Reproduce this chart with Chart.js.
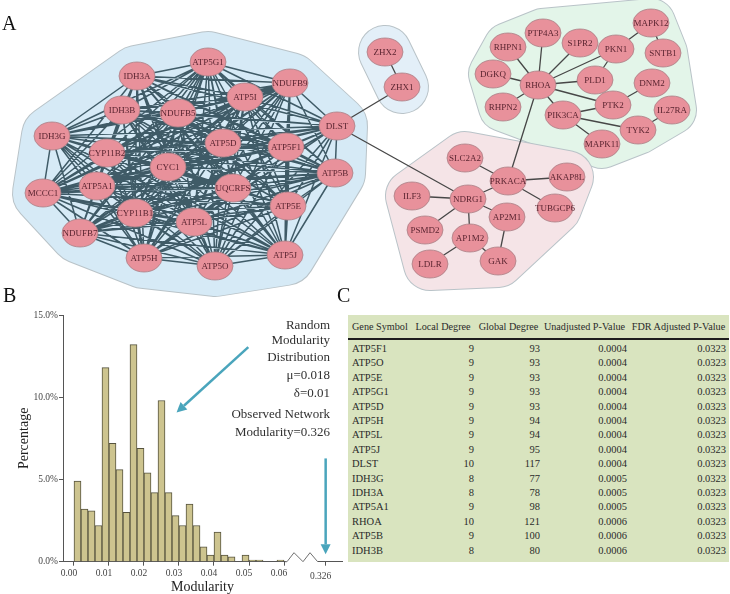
<!DOCTYPE html>
<html lang="en">
<head>
  <meta charset="UTF-8">
  <title>Module network | Modularity</title>
  <script src="https://cdn.jsdelivr.net/npm/chart.js"></script>
  <style>
    body { margin: 0; background: #fff; font-family: "Liberation Serif", "DejaVu Serif", serif; }
    #wrap { position: relative; width: 730px; height: 594px; overflow: hidden; }
    .panel-label { position: absolute; font-size: 20px; line-height: 20px; color: #111; }
    #netChart { position: absolute; left: 0; top: 0; }
    #histChart { position: absolute; left: 0; top: 305px; }
    #tableBox { position: absolute; left: 348px; top: 315px; width: 381px; height: 247px; background: #d9e4bf; }
    #geneTable { border-collapse: separate; border-spacing: 0; table-layout: fixed; width: 381px; color: #2b2b2b; }
    #geneTable th { font-weight: normal; font-size: 10.2px; height: 23px; padding: 0; border-bottom: 2px solid #1e1e1e; text-align: center; white-space: nowrap; vertical-align: middle; }
    #geneTable th:first-child { text-align: left; padding-left: 4px; }
    #geneTable td { font-size: 10.5px; height: 14.4px; line-height: 14.4px; padding: 0 2px 0 0; text-align: right; white-space: nowrap; }
    #geneTable td:first-child { text-align: left; padding-left: 4px; }
    #geneTable tbody tr:first-child td { padding-top: 2px; }
  </style>
</head>
<body>
<div id="wrap">
  <canvas id="netChart" width="730" height="300"></canvas>
  <canvas id="histChart" width="345" height="289"></canvas>
  <div id="tableBox">
    <table id="geneTable">
      <colgroup><col style="width:62px"><col style="width:66px"><col style="width:65px"><col style="width:87px"><col style="width:101px"></colgroup>
      <thead><tr><th>Gene Symbol</th><th>Local Degree</th><th>Global Degree</th><th>Unadjusted P-Value</th><th>FDR Adjusted P-Value</th></tr></thead>
      <tbody id="geneRows"></tbody>
    </table>
  </div>
  <div class="panel-label" style="left:2px;top:13px">A</div>
  <div class="panel-label" style="left:3px;top:285px">B</div>
  <div class="panel-label" style="left:337px;top:285px">C</div>
</div>

<script>
  // ---- panel A: network (layout) ----
  const nodeNames = ["ATP5G1","IDH3A","NDUFB9","ATP5I","IDH3B","NDUFB5","DLST","IDH3G","ATP5D","ATP5F1","CYP11B2","CYC1",
    "ATP5B","MCCC1","ATP5A1","UQCRFS","ATP5E","CYP11B1","ATP5L","NDUFB7","ATP5H","ATP5O","ATP5J",
    "ZHX2","ZHX1",
    "RHPN1","PTP4A3","S1PR2","MAPK12","PKN1","SNTB1","DGKQ","RHOA","PLD1","DNM2","RHPN2","PTK2","IL27RA","PIK3CA","TYK2","MAPK11",
    "SLC2A2","PRKACA","AKAP8L","ILF3","NDRG1","TUBGCP6","AP2M1","PSMD2","AP1M2","GAK","LDLR"];
  const nodeX = [208,137,290,245,122,178,337,52,223,286,107,168,335,43,97,233,288,135,194,80,144,215,285,
    385,402,
    508,543,580,651,616,663,493,538,595,652,503,613,672,563,638,602,
    465,508,567,412,468,555,507,425,470,498,430];
  const nodeY = [62,76,83,97,110,113,126,136,143,147,153,167,173,193,186,188,206,213,222,233,258,266,255,
    52,87,
    47,33,43,23,49,53,74,85,80,83,107,105,110,115,130,144,
    158,181,177,196,199,208,217,230,238,261,264];
  const nodeGroup = [..."mmmmmmmmmmmmmmmmmmmmmmm", "z","z", ..."rrrrrrrrrrrrrrrr", ..."ppppppppppp"];

  // sparse links outside the dense mitochondrial module
  const edgeFrom = ["ZHX2","ZHX1","DLST","RHOA","RHOA","RHOA","RHOA","RHOA","RHOA","RHOA","RHOA","RHOA","RHOA",
    "PKN1","MAPK12","PKN1","PTK2","PTK2","PIK3CA","TYK2","PIK3CA",
    "PRKACA","PRKACA","PRKACA","PRKACA","NDRG1","NDRG1","NDRG1","NDRG1","AP1M2","AP1M2","AP2M1"];
  const edgeTo = ["ZHX1","DLST","NDRG1","PRKACA","RHPN1","PTP4A3","S1PR2","PKN1","DGKQ","PLD1","RHPN2","PTK2","PIK3CA",
    "MAPK12","SNTB1","PLD1","DNM2","PIK3CA","TYK2","IL27RA","MAPK11",
    "SLC2A2","AKAP8L","TUBGCP6","NDRG1","ILF3","AP2M1","PSMD2","AP1M2","LDLR","GAK","GAK"];

  const hullFill = { m: "#d6eaf6", z: "#e3eff8", r: "#e3f5e9", p: "#f5e4e7" };
  const hullPad = { m: 30, z: 26, r: 24, p: 26 };

  function convexHull(pts) {
    const p = pts.slice().sort((a, b) => a.x - b.x || a.y - b.y);
    if (p.length < 3) return p;
    const cross = (o, a, b) => (a.x - o.x) * (b.y - o.y) - (a.y - o.y) * (b.x - o.x);
    const lo = [], up = [];
    for (const q of p) { while (lo.length >= 2 && cross(lo[lo.length - 2], lo[lo.length - 1], q) <= 0) lo.pop(); lo.push(q); }
    for (const q of p.slice().reverse()) { while (up.length >= 2 && cross(up[up.length - 2], up[up.length - 1], q) <= 0) up.pop(); up.push(q); }
    return lo.slice(0, -1).concat(up.slice(0, -1));
  }

  const networkPlugin = {
    id: "network",
    beforeDatasetsDraw(chart) {
      const ctx = chart.ctx;
      const pts = chart.getDatasetMeta(0).data;
      const byName = {};
      nodeNames.forEach((n, i) => byName[n] = pts[i]);
      ctx.save();
      ctx.lineJoin = "round";
      ctx.lineCap = "round";
      for (const g of Object.keys(hullFill)) {
        const hull = convexHull(pts.filter((p, i) => nodeGroup[i] === g).map(p => ({ x: p.x, y: p.y })));
        ctx.beginPath();
        hull.forEach((q, i) => i ? ctx.lineTo(q.x, q.y) : ctx.moveTo(q.x, q.y));
        ctx.closePath();
        ctx.strokeStyle = "#b9c3c8";
        ctx.lineWidth = hullPad[g] * 2 + 2;
        ctx.stroke();
        ctx.strokeStyle = hullFill[g];
        ctx.lineWidth = hullPad[g] * 2;
        ctx.stroke();
        ctx.fillStyle = hullFill[g];
        ctx.fill();
      }
      // dense module: every pair linked
      const mito = pts.filter((p, i) => nodeGroup[i] === "m");
      ctx.strokeStyle = "rgba(50,78,90,0.92)";
      ctx.lineWidth = 1.5;
      ctx.beginPath();
      for (let i = 0; i < mito.length; i++)
        for (let j = i + 1; j < mito.length; j++) {
          ctx.moveTo(mito[i].x, mito[i].y);
          ctx.lineTo(mito[j].x, mito[j].y);
        }
      ctx.stroke();
      ctx.strokeStyle = "#474747";
      ctx.lineWidth = 1.3;
      ctx.beginPath();
      edgeFrom.forEach((f, i) => {
        const a = byName[f], b = byName[edgeTo[i]];
        ctx.moveTo(a.x, a.y);
        ctx.lineTo(b.x, b.y);
      });
      ctx.stroke();
      ctx.restore();
    },
    afterDatasetsDraw(chart) {
      const ctx = chart.ctx;
      const pts = chart.getDatasetMeta(0).data;
      ctx.save();
      ctx.font = '9px "Liberation Serif"';
      ctx.textAlign = "center";
      ctx.textBaseline = "middle";
      pts.forEach((p, i) => {
        ctx.beginPath();
        ctx.ellipse(p.x, p.y, 18, 14, 0, 0, Math.PI * 2);
        ctx.fillStyle = "#e8919b";
        ctx.fill();
        ctx.strokeStyle = "#a98087";
        ctx.lineWidth = 0.8;
        ctx.stroke();
        ctx.fillStyle = "#5a2430";
        ctx.fillText(nodeNames[i], p.x, p.y + 0.5);
      });
      ctx.restore();
    }
  };

  new Chart(document.getElementById("netChart"), {
    type: "scatter",
    data: { datasets: [{ data: nodeNames.map((n, i) => ({ x: nodeX[i], y: nodeY[i] })), pointRadius: 0 }] },
    options: {
      responsive: false, animation: false, events: [],
      layout: { padding: 0 },
      plugins: { legend: { display: false }, tooltip: { enabled: false } },
      scales: {
        x: { type: "linear", min: 0, max: 730, display: false },
        y: { type: "linear", min: 0, max: 300, reverse: true, display: false }
      }
    },
    plugins: [networkPlugin]
  });

  // ---- panel B: modularity histogram ----
  const binWidth = 0.002;
  const binStart = [0.000,0.002,0.004,0.006,0.008,0.010,0.012,0.014,0.016,0.018,0.020,0.022,0.024,0.026,0.028,
    0.030,0.032,0.034,0.036,0.038,0.040,0.042,0.044,0.046,0.048,0.050,0.052,0.054,0.056,0.058];
  const binPct = [4.9,3.2,3.1,2.2,11.8,7.2,5.6,3.0,13.2,6.9,5.4,4.2,9.8,4.2,2.8,
    2.2,3.5,2.2,0.9,0.4,1.8,0.4,0.3,0,0.4,0.1,0.1,0,0,0.1];
  const xTickValues = [0.00,0.01,0.02,0.03,0.04,0.05,0.06];
  const observedPos = 0.0719;        // where the axis break puts the observed value
  const observedLabel = "0.326";
  const yTickValues = [0,5,10,15];
  const noteLines = ["Random","Modularity","Distribution","\u03bc=0.018","\u03b4=0.01","Observed Network","Modularity=0.326"];
  const noteY = [21,36,53,71,89,110,128];

  function arrow(ctx, x1, y1, x2, y2) {
    const a = Math.atan2(y2 - y1, x2 - x1), L = 10, W = 5;
    const bx = x2 - L * Math.cos(a), by = y2 - L * Math.sin(a);
    ctx.beginPath();
    ctx.moveTo(x1, y1);
    ctx.lineTo(bx, by);
    ctx.stroke();
    ctx.beginPath();
    ctx.moveTo(x2, y2);
    ctx.lineTo(bx + W * Math.sin(a), by - W * Math.cos(a));
    ctx.lineTo(bx - W * Math.sin(a), by + W * Math.cos(a));
    ctx.closePath();
    ctx.fill();
  }

  const histExtras = {
    id: "histExtras",
    afterDraw(chart) {
      const ctx = chart.ctx, xs = chart.scales.x, ys = chart.scales.y, base = chart.chartArea.bottom;
      ctx.save();
      const x1 = xs.getPixelForValue(0.06) + 1, x2 = xs.getPixelForValue(observedPos) - 8;
      ctx.fillStyle = "#fff";
      ctx.fillRect(x1 + 1, base - 2, x2 - x1 - 1, 4);
      ctx.strokeStyle = "#6f6f6f";
      ctx.lineWidth = 1;
      ctx.beginPath();
      ctx.moveTo(x1, base);
      ctx.lineTo(x1 + 2, base);
      ctx.lineTo(x1 + 9, base - 9);
      ctx.lineTo(x1 + 18, base);
      ctx.lineTo(x1 + 25, base - 9);
      ctx.lineTo(x2, base);
      ctx.stroke();

      ctx.strokeStyle = "#4aa5bc";
      ctx.fillStyle = "#4aa5bc";
      ctx.lineWidth = 2.5;
      arrow(ctx, xs.getPixelForValue(0.0498), ys.getPixelForValue(13.05), xs.getPixelForValue(0.0293), ys.getPixelForValue(9.07));
      arrow(ctx, xs.getPixelForValue(observedPos), ys.getPixelForValue(6.28), xs.getPixelForValue(observedPos), ys.getPixelForValue(0.45));

      ctx.fillStyle = "#303030";
      ctx.font = '13px "Liberation Serif"';
      ctx.textAlign = "right";
      ctx.textBaseline = "middle";
      noteLines.forEach((t, i) => ctx.fillText(t, 330, noteY[i]));
      ctx.restore();
    }
  };

  new Chart(document.getElementById("histChart"), {
    type: "bar",
    data: {
      datasets: [{
        data: binStart.map((s, i) => ({ x: s + binWidth / 2, y: binPct[i] })),
        backgroundColor: "#cdc48f",
        borderColor: "#56533e",
        borderWidth: 1,
        barThickness: 7
      }]
    },
    options: {
      responsive: false, animation: false, events: [],
      layout: { padding: { left: 10, top: 10, right: 3, bottom: 0 } },
      plugins: { legend: { display: false }, tooltip: { enabled: false } },
      scales: {
        x: {
          type: "linear", offset: false, min: -0.00314, max: 0.07657,
          afterBuildTicks: s => { s.ticks = xTickValues.concat([observedPos]).map(v => ({ value: v })); },
          afterFit: s => { s.height = 32.3; },
          grid: { offset: false, drawOnChartArea: false, tickLength: 4, color: "#555" },
          border: { color: "#555" },
          ticks: {
            autoSkip: false, maxRotation: 0, padding: 2, labelOffset: -5, color: "#444",
            font: c => ({ family: "Liberation Serif", size: 9.5, lineHeight: c.tick && c.tick.value > 0.065 ? 0.6 : 1.2 }),
            callback: v => v > 0.065 ? ["", observedLabel] : v.toFixed(2)
          },
          title: { display: true, text: "Modularity", color: "#222", padding: 0, font: { family: "Liberation Serif", size: 14, lineHeight: 1 } }
        },
        y: {
          min: 0, max: 15,
          afterBuildTicks: s => { s.ticks = yTickValues.map(v => ({ value: v })); },
          afterFit: s => { s.width = 53; },
          grid: { drawOnChartArea: false, tickLength: 4, color: "#555" },
          border: { color: "#555" },
          ticks: { padding: 1, color: "#444", font: { family: "Liberation Serif", size: 9.5 }, callback: v => v.toFixed(1) + "%" },
          title: { display: true, text: "Percentage", color: "#222", padding: { top: 6, bottom: 0 }, font: { family: "Liberation Serif", size: 14 } }
        }
      }
    },
    plugins: [histExtras]
  });

  // ---- panel C: top genes table ----
  const geneSymbols = ["ATP5F1","ATP5O","ATP5E","ATP5G1","ATP5D","ATP5H","ATP5L","ATP5J","DLST","IDH3G","IDH3A","ATP5A1","RHOA","ATP5B","IDH3B"];
  const localDegree = [9,9,9,9,9,9,9,9,10,8,8,9,10,9,8];
  const globalDegree = [93,93,93,93,93,94,94,95,117,77,78,98,121,100,80];
  const unadjustedP = [0.0004,0.0004,0.0004,0.0004,0.0004,0.0004,0.0004,0.0004,0.0004,0.0005,0.0005,0.0005,0.0006,0.0006,0.0006];
  const fdrP = [0.0323,0.0323,0.0323,0.0323,0.0323,0.0323,0.0323,0.0323,0.0323,0.0323,0.0323,0.0323,0.0323,0.0323,0.0323];

  document.getElementById("geneRows").innerHTML = geneSymbols.map((g, i) =>
    `<tr><td>${g}</td><td>${localDegree[i]}</td><td style="padding-right:1px">${globalDegree[i]}</td>` +
    `<td style="padding-right:1px">${unadjustedP[i].toFixed(4)}</td><td style="padding-right:3px">${fdrP[i].toFixed(4)}</td></tr>`
  ).join("");
</script>
</body>
</html>
